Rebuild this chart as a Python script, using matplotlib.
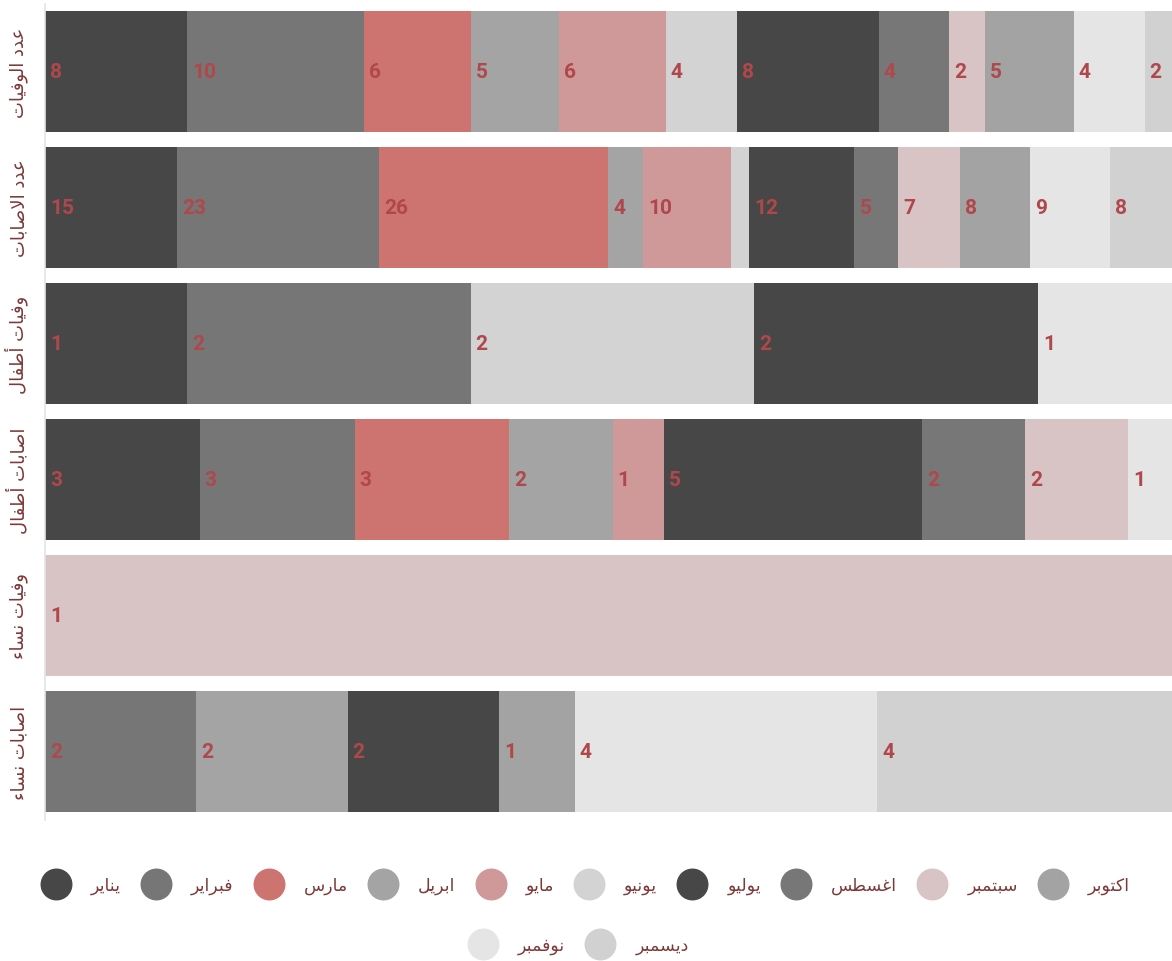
import matplotlib
matplotlib.use("Agg")
import matplotlib.pyplot as plt
from matplotlib.lines import Line2D
import numpy as np

# ---- data -------------------------------------------------------------
rows = ["عدد الوفيات", "عدد الاصابات", "وفيات أطفال",
        "اصابات أطفال", "وفيات نساء", "اصابات نساء"]
months = ["يناير", "فبراير", "مارس", "ابريل", "مايو", "يونيو",
          "يوليو", "اغسطس", "سبتمبر", "اكتوبر", "نوفمبر", "ديسمبر"]

deaths         = [8, 10, 6, 5, 6, 4, 8, 4, 2, 5, 4, 2]
injuries       = [15, 23, 26, 4, 10, 2, 12, 5, 7, 8, 9, 8]
child_deaths   = [1, 2, 0, 0, 0, 2, 2, 0, 0, 0, 1, 0]
child_injuries = [3, 3, 3, 2, 1, 0, 5, 2, 2, 0, 1, 0]
women_deaths   = [0, 0, 0, 0, 0, 0, 0, 0, 1, 0, 0, 0]
women_injuries = [0, 2, 0, 2, 0, 0, 2, 0, 0, 1, 4, 4]

series = [deaths, injuries, child_deaths, child_injuries,
          women_deaths, women_injuries]

colors = ["#474747", "#767676", "#cd7471", "#a4a4a4", "#cf9999", "#d3d3d3",
          "#474747", "#777777", "#d9c4c5", "#a3a3a3", "#e5e5e5", "#d1d1d1"]

LABEL_RED = "#b0474b"
TEXT_BROWN = "#7e3838"

# ---- minimal Arabic shaping (contextual forms + visual order) ----------
FORMS = {
    'ء': ('\uFE80', None, None, None),
    'ا': ('\uFE8D', '\uFE8E', None, None),
    'أ': ('\uFE83', '\uFE84', None, None),
    'ب': ('\uFE8F', '\uFE90', '\uFE91', '\uFE92'),
    'ت': ('\uFE95', '\uFE96', '\uFE97', '\uFE98'),
    'د': ('\uFEA9', '\uFEAA', None, None),
    'ر': ('\uFEAD', '\uFEAE', None, None),
    'س': ('\uFEB1', '\uFEB2', '\uFEB3', '\uFEB4'),
    'ص': ('\uFEB9', '\uFEBA', '\uFEBB', '\uFEBC'),
    'ط': ('\uFEC1', '\uFEC2', '\uFEC3', '\uFEC4'),
    'ع': ('\uFEC9', '\uFECA', '\uFECB', '\uFECC'),
    'غ': ('\uFECD', '\uFECE', '\uFECF', '\uFED0'),
    'ف': ('\uFED1', '\uFED2', '\uFED3', '\uFED4'),
    'ك': ('\uFED9', '\uFEDA', '\uFEDB', '\uFEDC'),
    'ل': ('\uFEDD', '\uFEDE', '\uFEDF', '\uFEE0'),
    'م': ('\uFEE1', '\uFEE2', '\uFEE3', '\uFEE4'),
    'ن': ('\uFEE5', '\uFEE6', '\uFEE7', '\uFEE8'),
    'و': ('\uFEED', '\uFEEE', None, None),
    'ي': ('\uFEF1', '\uFEF2', '\uFEF3', '\uFEF4'),
}
LAM_ALEF = {'ا': ('\uFEFB', '\uFEFC'), 'أ': ('\uFEF7', '\uFEF8')}


def _dual(c):
    return c in FORMS and FORMS[c][2] is not None


def _joining(c):
    return c in FORMS and FORMS[c][1] is not None


def ar(text):
    chars = list(text)
    n = len(chars)
    out = []
    i = 0
    while i < n:
        c = chars[i]
        if c not in FORMS:
            out.append(c)
            i += 1
            continue
        prev = chars[i - 1] if i > 0 else None
        link_prev = prev is not None and _dual(prev) and _joining(c)
        if c == 'ل' and i + 1 < n and chars[i + 1] in LAM_ALEF:
            iso, fin = LAM_ALEF[chars[i + 1]]
            out.append(fin if link_prev else iso)
            i += 2
            continue
        nxt = chars[i + 1] if i + 1 < n else None
        link_next = _dual(c) and nxt is not None and _joining(nxt)
        iso, fin, ini, med = FORMS[c]
        if link_prev and link_next:
            out.append(med)
        elif link_prev:
            out.append(fin)
        elif link_next:
            out.append(ini)
        else:
            out.append(iso)
        i += 1
    return ''.join(reversed(out))


# ---- figure -------------------------------------------------------------
W, H = 1172, 962
fig = plt.figure(figsize=(W / 100, H / 100), dpi=100)
fig.patch.set_facecolor("white")

ax_left, ax_right = 45, 1180
ax_top, ax_bottom = 4.5, 820.5
ax = fig.add_axes([ax_left / W, 1 - ax_bottom / H,
                   (ax_right - ax_left) / W, (ax_bottom - ax_top) / H])

data = np.array(series, dtype=float)
totals = data.sum(axis=1)
frac = data / totals[:, None]
ypos = np.arange(len(rows))
lefts = np.zeros(len(rows))

for m in range(len(months)):
    widths = frac[:, m]
    ax.barh(ypos, widths, left=lefts, height=0.89, color=colors[m],
            linewidth=0, label=ar(months[m]))
    for r in range(len(rows)):
        if data[r, m] > 0 and widths[r] >= 0.02:
            ax.annotate(f"{int(data[r, m])}", xy=(lefts[r], ypos[r]),
                        xytext=(5, 0), textcoords="offset pixels",
                        ha="left", va="center", fontsize=15,
                        fontweight="bold", family=["Roboto", "DejaVu Sans"],
                        color=LABEL_RED)
    lefts = lefts + widths

ax.set_xlim(0, 1)
ax.set_ylim(len(rows) - 0.5, -0.5)
ax.set_yticks(ypos)
ax.set_yticklabels([ar(r) for r in rows], rotation=90, va="center",
                   fontsize=13, family=["DejaVu Sans"], color=TEXT_BROWN)
ax.tick_params(axis="y", length=0, pad=12)
ax.xaxis.set_visible(False)
for s in ("top", "right", "bottom"):
    ax.spines[s].set_visible(False)
ax.spines["left"].set_color("#e4e4e4")
ax.spines["left"].set_linewidth(1.2)

# ---- legend: ten months on the first line, two on the second -----------
def handle(c):
    return Line2D([], [], linestyle="none", marker="o", markersize=22,
                  markerfacecolor=c, markeredgecolor=c)

leg_kw = dict(frameon=False, handlelength=1.6,
              handletextpad=1.22, columnspacing=1.22, borderpad=0,
              borderaxespad=0, labelcolor=TEXT_BROWN,
              prop={"family": ["DejaVu Sans"], "size": 12.5})

h1 = [handle(colors[i]) for i in range(10)]
l1 = [ar(months[i]) for i in range(10)]
leg1 = fig.legend(h1, l1, loc="center", ncol=10,
                  bbox_to_anchor=(0.5, 1 - 886 / H), **leg_kw)
h2 = [handle(colors[i]) for i in range(10, 12)]
l2 = [ar(months[i]) for i in range(10, 12)]
leg2 = fig.legend(h2, l2, loc="center", ncol=2,
                  bbox_to_anchor=(0.494, 1 - 946 / H), **leg_kw)

fig.savefig("out.png", dpi=100, facecolor="white")
